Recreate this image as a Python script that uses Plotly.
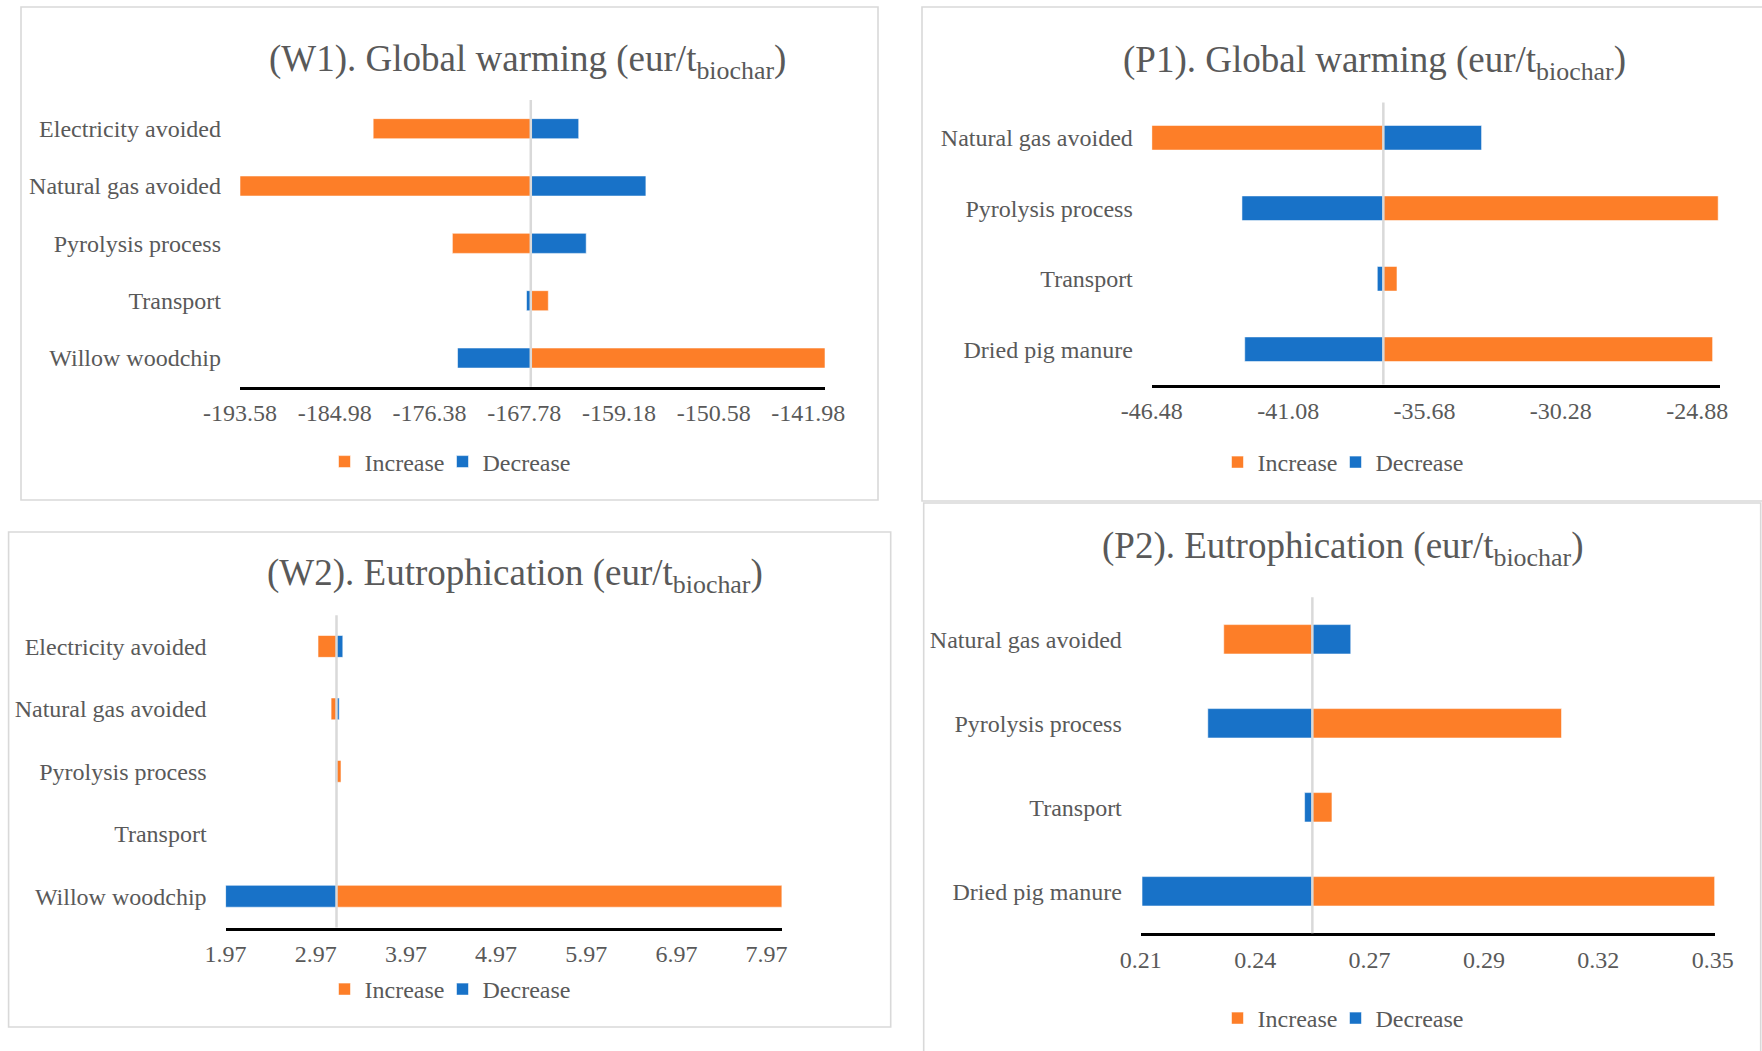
import plotly.graph_objects as go

# ---------------- data ----------------
W_CATEGORIES = ["Electricity avoided", "Natural gas avoided", "Pyrolysis process",
                "Transport", "Willow woodchip"]
P_CATEGORIES = ["Natural gas avoided", "Pyrolysis process", "Transport", "Dried pig manure"]

# (W1) Global warming, willow woodchip scenario
W1_BASE = -167.18
W1_INCREASE = [-181.49, -193.58, -174.30, -165.59, -140.47]
W1_DECREASE = [-162.83, -156.73, -162.15, -167.57, -173.83]
W1_RANGE = [-193.58, -140.47]
W1_TICKS = [-193.58, -184.98, -176.38, -167.78, -159.18, -150.58, -141.98]
W1_TICK_LABELS = ["-193.58", "-184.98", "-176.38", "-167.78", "-159.18", "-150.58", "-141.98"]

# (P1) Global warming, dried pig manure scenario
P1_BASE = -37.31
P1_INCREASE = [-46.48, -24.05, -36.77, -24.27]
P1_DECREASE = [-33.42, -42.91, -37.55, -42.80]
P1_RANGE = [-46.48, -23.97]
P1_TICKS = [-46.48, -41.08, -35.68, -30.28, -24.88]
P1_TICK_LABELS = ["-46.48", "-41.08", "-35.68", "-30.28", "-24.88"]

# (W2) Eutrophication, willow woodchip scenario
W2_BASE = 3.20
W2_INCREASE = [2.995, 3.14, 3.25, 3.205, 8.14]
W2_DECREASE = [3.27, 3.23, 3.19, 3.195, 1.97]
W2_RANGE = [1.97, 8.14]
W2_TICKS = [1.97, 2.97, 3.97, 4.97, 5.97, 6.97, 7.97]
W2_TICK_LABELS = ["1.97", "2.97", "3.97", "4.97", "5.97", "6.97", "7.97"]

# (P2) Eutrophication, dried pig manure scenario
P2_BASE = 0.252
P2_INCREASE = [0.2303, 0.3130, 0.2568, 0.3505]
P2_DECREASE = [0.2614, 0.2264, 0.2501, 0.2103]
P2_RANGE = [0.21, 0.3505]
P2_TICKS = [0.21, 0.238, 0.266, 0.294, 0.322, 0.35]
P2_TICK_LABELS = ["0.21", "0.24", "0.27", "0.29", "0.32", "0.35"]

SERIES_NAMES = ["Increase", "Decrease"]

# ---------------- style ----------------
W, H = 1762, 1051
FONT = "Liberation Serif, Times New Roman, serif"
TEXT_GRAY = "#595959"
ORANGE = "#FD7E28"
BLUE = "#1872C8"
EDGE = "rgba(255,255,255,0.55)"
PANEL_LINE = "#D9D9D9"


def fx(px):
    return px / W


def fy(py):
    return 1 - py / H


panels = [
    dict(title="(W1). Global warming (eur/t<sub>biochar</sub>)", cats=W_CATEGORIES,
         base=W1_BASE, inc=W1_INCREASE, dec=W1_DECREASE, rng=W1_RANGE,
         ticks=W1_TICKS, labels=W1_TICK_LABELS,
         box=(21, 7, 878, 500), plot=(240, 100, 825, 386.7),
         title_at=(527, 61), legend_at=(324.5, 462)),
    dict(title="(P1). Global warming (eur/t<sub>biochar</sub>)", cats=P_CATEGORIES,
         base=P1_BASE, inc=P1_INCREASE, dec=P1_DECREASE, rng=P1_RANGE,
         ticks=P1_TICKS, labels=P1_TICK_LABELS,
         box=(922, 7, 1790, 501), plot=(1151.8, 102.5, 1720.2, 384.5),
         title_at=(1374.7, 62), legend_at=(1217.5, 462.5)),
    dict(title="(W2). Eutrophication (eur/t<sub>biochar</sub>)", cats=W_CATEGORIES,
         base=W2_BASE, inc=W2_INCREASE, dec=W2_DECREASE, rng=W2_RANGE,
         ticks=W2_TICKS, labels=W2_TICK_LABELS,
         box=(8.6, 532, 890.7, 1027), plot=(225.6, 615.2, 781.9, 927.5),
         title_at=(515.2, 575), legend_at=(324.5, 989.5)),
    dict(title="(P2). Eutrophication (eur/t<sub>biochar</sub>)", cats=P_CATEGORIES,
         base=P2_BASE, inc=P2_INCREASE, dec=P2_DECREASE, rng=P2_RANGE,
         ticks=P2_TICKS, labels=P2_TICK_LABELS,
         box=(923.7, 503, 1760.7, 1080), plot=(1140.8, 597.3, 1714.7, 933.3),
         title_at=(1342.8, 548), legend_at=(1217.5, 1018.5)),
]

fig = go.Figure()
layout = dict(
    width=W, height=H,
    margin=dict(l=0, r=0, t=0, b=0, autoexpand=False),
    paper_bgcolor="white", plot_bgcolor="rgba(0,0,0,0)",
    barmode="overlay", showlegend=True,
    font=dict(family=FONT, color=TEXT_GRAY, size=24),
    shapes=[], annotations=[],
)

for i, p in enumerate(panels, start=1):
    sfx = "" if i == 1 else str(i)
    xa, ya, leg = "x" + sfx, "y" + sfx, "legend" + sfx
    base = p["base"]

    # the first legend entry is packed a little tighter than plotly's default
    for name, vals, color, entry_w in ((SERIES_NAMES[0], p["inc"], ORANGE, 73),
                                       (SERIES_NAMES[1], p["dec"], BLUE, None)):
        fig.add_trace(go.Bar(
            name=name, y=p["cats"], x=[v - base for v in vals], base=base,
            orientation="h", width=0.35,
            marker=dict(color=color, line=dict(color=EDGE, width=1)),
            xaxis=xa, yaxis=ya, legend=leg, legendwidth=entry_w, hoverinfo="skip",
        ))

    x0, y0, x1, y1 = p["plot"]
    layout["xaxis" + sfx] = dict(
        domain=[fx(x0), fx(x1)], range=p["rng"], anchor=ya, automargin=False,
        tickmode="array", tickvals=p["ticks"], ticktext=p["labels"],
        showgrid=False, zeroline=False, showline=True,
        linecolor="black", linewidth=2.5, ticks="",
        ticklabelstandoff=3,
        tickfont=dict(family=FONT, size=24, color=TEXT_GRAY), fixedrange=True,
    )
    layout["yaxis" + sfx] = dict(
        domain=[fy(y1), fy(y0)], anchor=xa, type="category", automargin=False,
        categoryorder="array", categoryarray=p["cats"],
        range=[len(p["cats"]) - 0.5, -0.5],
        showgrid=False, zeroline=False, showline=False, ticks="",
        ticklabelstandoff=18,
        tickfont=dict(family=FONT, size=24, color=TEXT_GRAY), fixedrange=True,
    )

    # value axis crossing at the base case
    layout["shapes"].append(dict(
        type="line", xref=xa, yref=ya + " domain", x0=base, x1=base, y0=0, y1=1,
        line=dict(color="#D9D9D9", width=2.5), layer="above",
    ))
    # chart frame
    bx0, by0, bx1, by1 = p["box"]
    layout["shapes"].append(dict(
        type="rect", xref="paper", yref="paper",
        x0=fx(bx0), x1=fx(bx1), y0=fy(by1), y1=fy(by0),
        line=dict(color=PANEL_LINE, width=1.6), fillcolor="rgba(0,0,0,0)", layer="below",
    ))
    tx, ty = p["title_at"]
    layout["annotations"].append(dict(
        text=p["title"], xref="paper", yref="paper", x=fx(tx), y=fy(ty),
        xanchor="center", yanchor="middle", showarrow=False,
        font=dict(family=FONT, size=37, color=TEXT_GRAY),
    ))
    lx, ly = p["legend_at"]
    layout[leg] = dict(
        orientation="h", x=fx(lx), y=fy(ly), xanchor="left", yanchor="middle",
        font=dict(family=FONT, size=24, color=TEXT_GRAY),
        bgcolor="rgba(0,0,0,0)", traceorder="normal",
    )

fig.update_layout(**layout)
fig.write_html("out.html")
